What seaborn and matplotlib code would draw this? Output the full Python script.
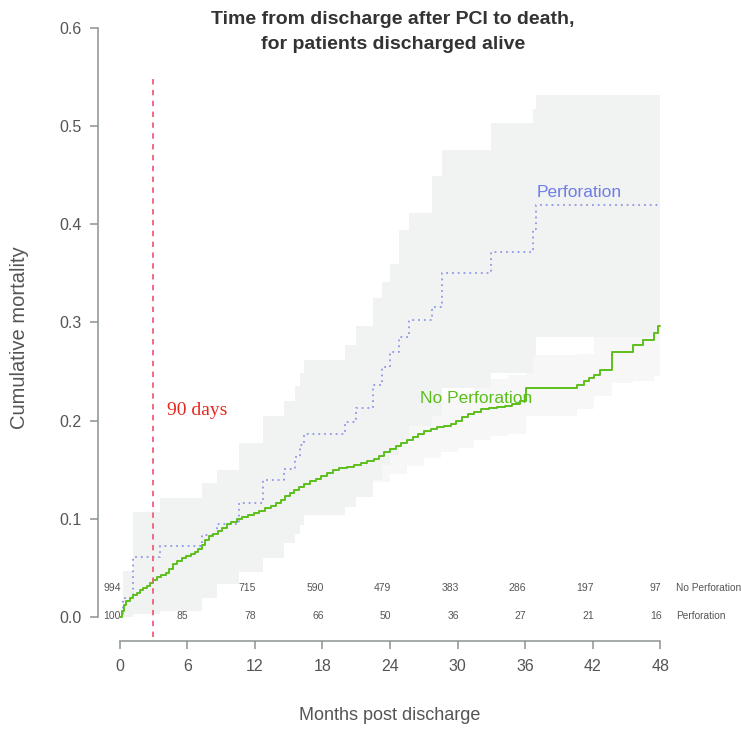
import matplotlib
matplotlib.use("Agg")
import matplotlib.pyplot as plt
import numpy as np
import pandas as pd
import seaborn as sns

# ---- Kaplan-Meier style cumulative mortality (months post discharge) ----
# No perforation group: estimate
np_month = [0.0, 0.2, 0.4, 0.6, 0.9, 1.2, 1.5, 1.8, 2.1, 2.4, 2.7, 3.0, 3.3, 3.7,
            4.1, 4.4, 4.7, 5.1, 5.5, 5.9, 6.3, 6.7, 7.0, 7.3, 7.6, 7.9, 8.3, 8.7,
            9.1, 9.5, 9.9, 10.4, 10.9, 11.4, 11.9, 12.4, 12.9, 13.4, 13.9, 14.3,
            14.7, 15.1, 15.5, 15.9, 16.4, 16.9, 17.4, 17.9, 18.4, 18.9, 19.5, 20.2,
            20.8, 21.4, 22.0, 22.6, 23.0, 23.5, 24.0, 24.5, 25.0, 25.5, 26.0, 26.5,
            27.0, 27.6, 28.2, 28.8, 29.4, 29.9, 30.4, 30.9, 31.5, 32.1, 32.8, 33.5,
            34.2, 34.8, 35.5, 36.1, 40.6, 41.2, 41.7, 42.1, 42.6, 43.7, 45.6, 46.5,
            47.4, 47.8, 48.0]
np_cum = [0.0, 0.006, 0.012, 0.016, 0.019, 0.022, 0.024, 0.027, 0.029, 0.032, 0.035,
          0.038, 0.041, 0.043, 0.045, 0.049, 0.054, 0.057, 0.060, 0.062, 0.064, 0.066,
          0.069, 0.073, 0.078, 0.082, 0.085, 0.088, 0.091, 0.095, 0.097, 0.100, 0.102,
          0.104, 0.106, 0.108, 0.111, 0.113, 0.116, 0.119, 0.123, 0.126, 0.129, 0.132,
          0.135, 0.138, 0.141, 0.144, 0.147, 0.150, 0.152, 0.153, 0.155, 0.157, 0.159,
          0.161, 0.164, 0.168, 0.171, 0.174, 0.177, 0.180, 0.183, 0.186, 0.189, 0.191,
          0.193, 0.195, 0.197, 0.200, 0.204, 0.207, 0.209, 0.212, 0.213, 0.214, 0.215,
          0.217, 0.220, 0.233, 0.236, 0.240, 0.243, 0.246, 0.252, 0.270, 0.277, 0.282,
          0.289, 0.296, 0.296]

# No perforation group: confidence band
np_ci_month = [0, 1, 2, 3, 4.5, 6, 7.5, 9, 10.5, 12, 13.5, 15, 16.5, 18, 19.5, 21,
               22.5, 24, 25.5, 27, 28.5, 30, 31.5, 33, 34.5, 36.1, 40.6, 42.1, 43.7,
               45.6, 47.4, 48]
np_ci_lo = [0.0, 0.012, 0.019, 0.027, 0.036, 0.049, 0.060, 0.073, 0.082, 0.090, 0.097,
            0.106, 0.114, 0.122, 0.128, 0.132, 0.137, 0.146, 0.154, 0.162, 0.168, 0.172,
            0.180, 0.184, 0.186, 0.205, 0.212, 0.225, 0.238, 0.240, 0.245, 0.245]
np_ci_hi = [0.008, 0.030, 0.039, 0.049, 0.060, 0.076, 0.090, 0.106, 0.117, 0.125, 0.133,
            0.145, 0.156, 0.165, 0.176, 0.180, 0.186, 0.196, 0.206, 0.216, 0.222, 0.228,
            0.238, 0.242, 0.246, 0.267, 0.268, 0.300, 0.320, 0.330, 0.345, 0.345]

# Perforation group: estimate with confidence band
pf_month = [0.0, 0.3, 1.2, 3.6, 7.3, 8.6, 10.6, 12.7, 14.6, 15.6, 16.0, 16.4, 20.0,
            21.0, 22.5, 23.3, 24.0, 24.8, 25.7, 27.7, 28.6, 33.0, 36.7, 37.0, 48.0]
pf_cum = [0.0, 0.019, 0.061, 0.072, 0.083, 0.095, 0.116, 0.1395, 0.151, 0.163, 0.175,
          0.186, 0.199, 0.2125, 0.236, 0.255, 0.270, 0.285, 0.302, 0.316, 0.350, 0.372,
          0.395, 0.420, 0.420]
pf_ci_lo = [0.0, 0.0, 0.003, 0.006, 0.019, 0.034, 0.046, 0.060, 0.075, 0.085, 0.094,
            0.104, 0.112, 0.122, 0.1395, 0.155, 0.165, 0.180, 0.195, 0.205, 0.233, 0.248,
            0.265, 0.285, 0.285]
pf_ci_hi = [0.0, 0.047, 0.107, 0.121, 0.136, 0.150, 0.177, 0.205, 0.220, 0.235, 0.248,
            0.262, 0.277, 0.296, 0.3245, 0.3415, 0.360, 0.394, 0.411, 0.449, 0.476, 0.503,
            0.517, 0.532, 0.532]

# Numbers at risk
risk_month = [0, 6, 12, 18, 24, 30, 36, 42, 48]
risk_no_perf = [994, None, 715, 590, 479, 383, 286, 197, 97]
risk_perf = [100, 85, 78, 66, 50, 36, 27, 21, 16]

x_ticks = [0, 6, 12, 18, 24, 30, 36, 42, 48]
y_ticks = [0.0, 0.1, 0.2, 0.3, 0.4, 0.5, 0.6]
y_tick_labels = ["0.0", "0.1", "0.2", "0.3", "0.4", "0.5", "0.6"]
landmark_month = 90 / 30.4375  # 90 days

sns.set_theme(style="white")
plt.rcParams['font.family'] = ['Liberation Sans', 'DejaVu Sans']

GREEN = "#5cbf1c"
BLUE_LINE = "#8e98e6"
BLUE_TEXT = "#6f7de6"
AXIS = "#8c9292"
TXT = "#555555"

fig = plt.figure(figsize=(7.41, 7.29), dpi=100)
ax = fig.add_axes([98 / 741, 1 - 640.5 / 729, (682 - 98) / 741, (640.5 - 4.4) / 729])
ax.set_xlim(-1.92, 49.92)
ax.set_ylim(-0.024, 0.624)

# confidence bands
ax.fill_between(np_ci_month, np_ci_lo, np_ci_hi, step="post", color="#f7f7f7", lw=0, zorder=1)
ax.fill_between(pf_month, pf_ci_lo, pf_ci_hi, step="post", color="#f1f2f2", lw=0, zorder=2)

df_np = pd.DataFrame({"month": np_month, "cum": np_cum})
df_pf = pd.DataFrame({"month": pf_month, "cum": pf_cum})

sns.lineplot(data=df_np, x="month", y="cum", estimator=None, sort=False, ax=ax,
             drawstyle="steps-post", color=GREEN, lw=1.4, zorder=4)
sns.lineplot(data=df_pf, x="month", y="cum", estimator=None, sort=False, ax=ax,
             drawstyle="steps-post", color=BLUE_LINE, lw=1.3, linestyle=(0, (1, 2.2)),
             zorder=3)

# 90-day landmark
ax.plot([landmark_month, landmark_month], [-0.02, 0.55], color="#f0607a", lw=1.3,
        linestyle=(0, (3, 3)), clip_on=False, zorder=5)
ax.text(landmark_month + 1.25, 0.2107, "90 days", color="#e5281e", fontsize=14,
        family=["Liberation Serif", "DejaVu Serif"], ha="left", va="center")

# curve labels
ax.text(37.0, 0.432, "Perforation", color=BLUE_TEXT, fontsize=12.5, ha="left", va="center")
ax.text(26.7, 0.223, "No Perforation", color=GREEN, fontsize=12.5, ha="left", va="center",
        zorder=6)

# numbers at risk
for m, n in zip(risk_month, risk_no_perf):
    if n is not None:
        ax.text(m + 0.1, 0.0295, str(n), ha="right", va="center", fontsize=7.5, color=TXT)
for m, n in zip(risk_month, risk_perf):
    ax.text(m + 0.1, 0.0005, str(n), ha="right", va="center", fontsize=7.5, color=TXT)
ax.text(49.4, 0.0295, "No Perforation", ha="left", va="center", fontsize=7.3, color=TXT,
        clip_on=False)
ax.text(49.4, 0.0005, "Perforation", ha="left", va="center", fontsize=7.3, color=TXT,
        clip_on=False)

# axes in base-graphics style
for side in ["top", "right"]:
    ax.spines[side].set_visible(False)
ax.spines["left"].set_bounds(0, 0.6)
ax.spines["bottom"].set_bounds(0, 48)
for side in ["left", "bottom"]:
    ax.spines[side].set_color(AXIS)
    ax.spines[side].set_linewidth(1.1)
ax.set_xticks(x_ticks)
ax.set_xticklabels([str(v) for v in x_ticks])
ax.set_yticks(y_ticks)
ax.set_yticklabels(y_tick_labels)
ax.tick_params(axis="both", which="both", bottom=True, left=True, direction="out",
               length=6, width=1.1, color=AXIS, labelcolor=TXT, labelsize=11.5)
ax.tick_params(axis="y", pad=6)
ax.tick_params(axis="x", pad=7)
ax.set_xlabel("")
ax.set_ylabel("")
ax.grid(False)

fig.text(390 / 741, 1 - 715 / 729, "Months post discharge", ha="center", va="center",
         fontsize=13, color=TXT)
fig.text(20 / 741, 1 - 338 / 729, "Cumulative mortality", ha="center", va="center",
         rotation=90, fontsize=14.5, color=TXT)
fig.text(393 / 741, 1 - 32 / 729,
         "Time from discharge after PCI to death,\nfor patients discharged alive",
         ha="center", va="center", fontsize=14, fontweight="bold", color="#333333",
         linespacing=1.6)

fig.savefig("out.png", dpi=100, facecolor="white")
